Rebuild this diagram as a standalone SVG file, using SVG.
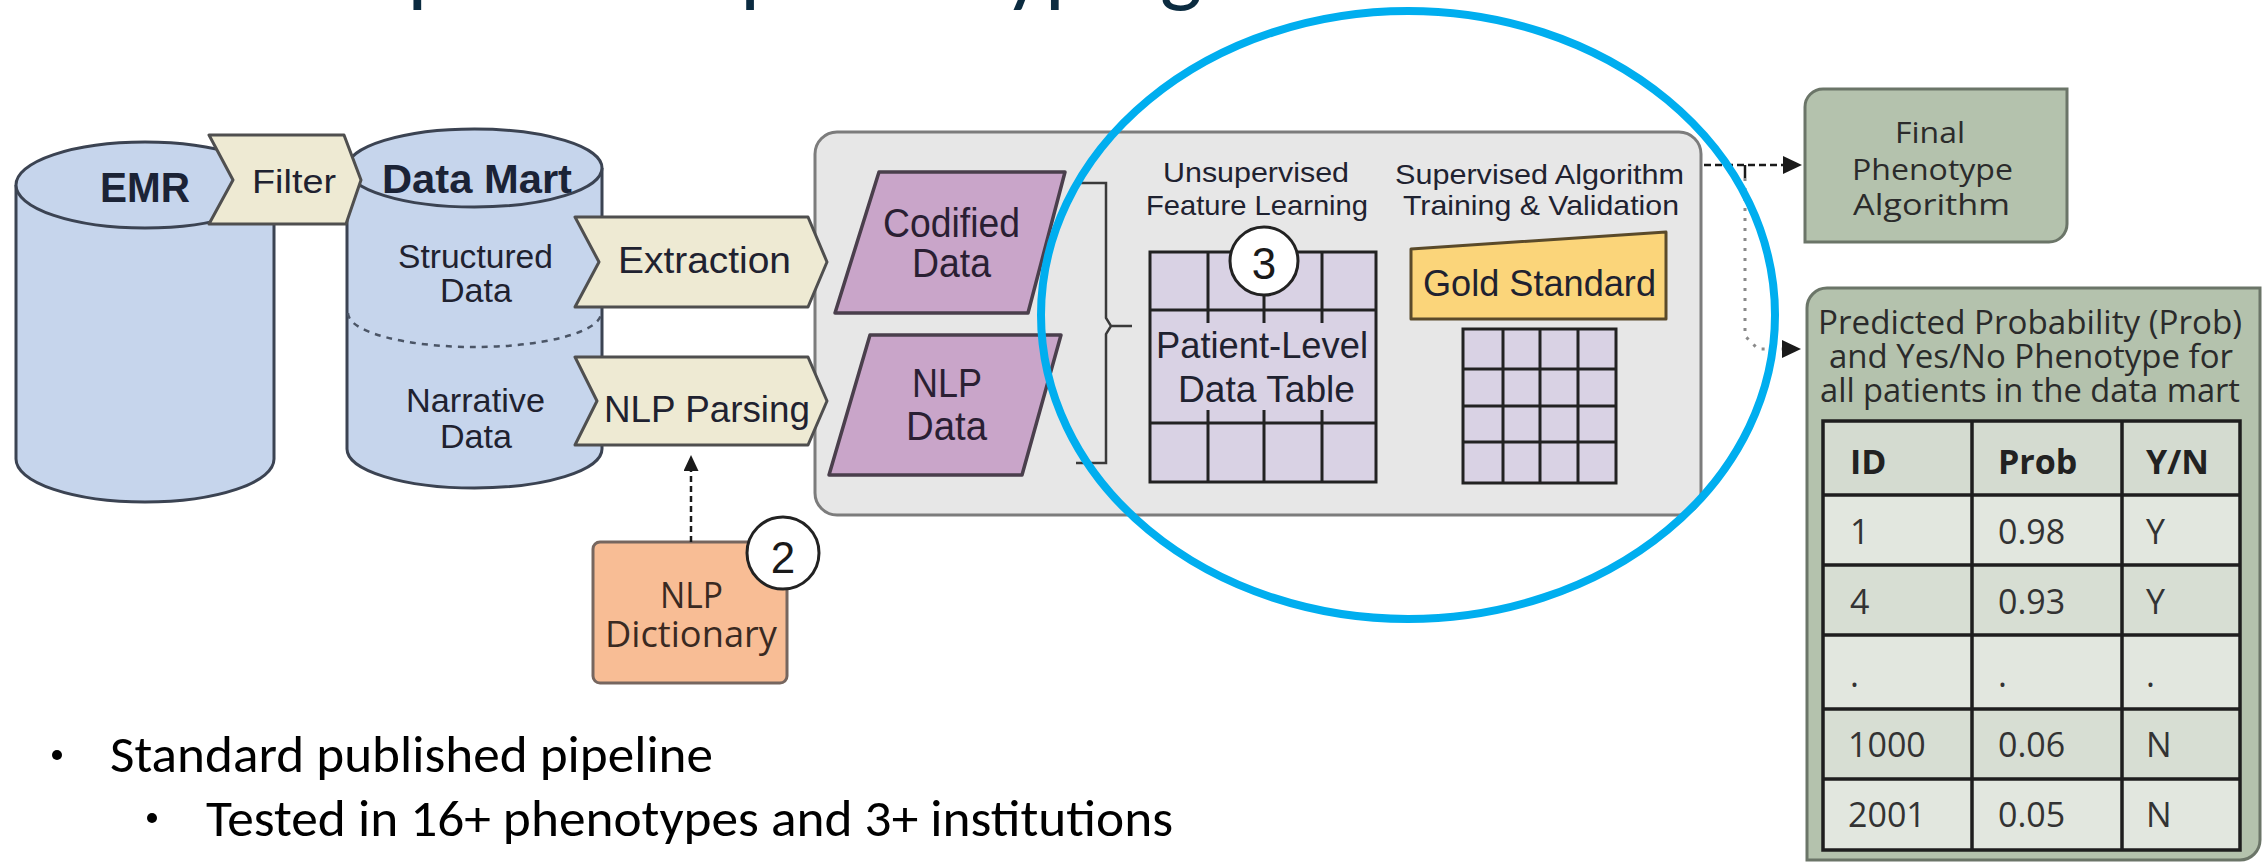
<svg xmlns="http://www.w3.org/2000/svg" width="2267" height="862" viewBox="0 0 2267 862">
  <defs>
    <style>
      .cn { font-family: "Liberation Sans Narrow", "Liberation Sans", Arial, sans-serif; fill: #1f2230; }
      .bd { font-weight: 700; fill: #1b2336; }
      .rg { font-family: "Open Sans", "Noto Sans", "Liberation Sans", sans-serif; fill: #2b2b2b; }
      .sl { font-family: Carlito, "Liberation Sans", Arial, sans-serif; fill: #000; }
      .cyl { fill: #c6d5ec; stroke: #3b4352; stroke-width: 3; }
      .chev { fill: #eeead3; stroke: #4f4f4f; stroke-width: 3; stroke-linejoin: round; }
      .para { fill: #c9a5c9; stroke: #4a3f4c; stroke-width: 3.5; stroke-linejoin: round; }
      .grid { fill: #d9d2e4; stroke: #222; stroke-width: 3; }
      .gl { stroke: #222; stroke-width: 3; fill: none; }
      .green { fill: #b4c2ad; stroke: #6b7568; stroke-width: 3; }
      .cell { stroke: #1e1e1e; stroke-width: 3.5; }
      .num { fill: #fff; stroke: #222; stroke-width: 3; }
      .tc { font-family: "Open Sans", "Noto Sans", "Liberation Sans", sans-serif; font-size: 34px; fill: #333; }
    </style>
    <marker id="ah" viewBox="0 0 20 18" refX="1" refY="9" markerWidth="20" markerHeight="18" markerUnits="userSpaceOnUse" orient="auto">
      <path d="M0,0 L19,9 L0,18 Z" fill="#1a1a1a"/>
    </marker>
    <marker id="ahs" viewBox="0 0 16 15" refX="1" refY="7.5" markerWidth="16" markerHeight="15" markerUnits="userSpaceOnUse" orient="auto">
      <path d="M0,0 L16,7.5 L0,15 Z" fill="#1a1a1a"/>
    </marker>
  </defs>

  <rect width="2267" height="862" fill="#ffffff"/>

  <!-- slide title, clipped by the top edge -->
  <text id="title" class="sl" x="119" y="-5" font-size="90" fill="#0b2b40" style="fill:#0b2b40" textLength="1083" lengthAdjust="spacingAndGlyphs">Semi-supervised phenotyping</text>

  <!-- EMR cylinder -->
  <g id="emr">
    <path class="cyl" d="M16,185 V459 A129,43 0 0 0 274,459 V185"/>
    <ellipse class="cyl" cx="145" cy="185" rx="129" ry="43"/>
    <text class="cn bd" x="100" y="202" font-size="42" textLength="90" lengthAdjust="spacingAndGlyphs">EMR</text>
  </g>

  <!-- Data Mart cylinder -->
  <g id="datamart">
    <path class="cyl" d="M347,168 V449 A127.5,39 0 0 0 602,449 V168"/>
    <ellipse class="cyl" cx="474.5" cy="168" rx="127.5" ry="39"/>
    <path d="M348,313 A126.5,34 0 0 0 601,313" fill="none" stroke="#4b5566" stroke-width="2.5" stroke-dasharray="6,6"/>
    <text class="cn bd" x="382" y="193" font-size="40" textLength="190" lengthAdjust="spacingAndGlyphs">Data Mart</text>
    <text class="cn" x="398" y="268" font-size="33" textLength="155" lengthAdjust="spacingAndGlyphs">Structured</text>
    <text class="cn" x="440" y="302" font-size="33" textLength="72" lengthAdjust="spacingAndGlyphs">Data</text>
    <text class="cn" x="406" y="412" font-size="33" textLength="139" lengthAdjust="spacingAndGlyphs">Narrative</text>
    <text class="cn" x="440" y="448" font-size="33" textLength="72" lengthAdjust="spacingAndGlyphs">Data</text>
  </g>

  <!-- Filter step -->
  <g id="filter">
    <polygon class="chev" stroke-width="2" points="209,135 344,135 361,180 346,224 209,224 233,180"/>
    <text class="cn" x="252" y="193" font-size="34" textLength="84" lengthAdjust="spacingAndGlyphs">Filter</text>
  </g>

  <!-- processing panel -->
  <g id="panel">
    <rect x="815" y="132" width="886" height="383" rx="22" fill="#e7e7e7" stroke="#7c7c7c" stroke-width="3"/>
  </g>

  <!-- Extraction step -->
  <g id="extraction">
    <polygon class="chev" points="575,217 808,217 827,262 808,307 575,307 599,262"/>
    <text class="cn" x="618" y="273" font-size="36" textLength="173" lengthAdjust="spacingAndGlyphs">Extraction</text>
  </g>

  <!-- NLP Parsing step -->
  <g id="nlpparsing">
    <polygon class="chev" points="575,357 808,357 827,401 808,445 575,445 597,401"/>
    <text class="cn" x="604" y="422" font-size="36" textLength="206" lengthAdjust="spacingAndGlyphs">NLP Parsing</text>
  </g>

  <!-- Codified Data -->
  <g id="codified">
    <polygon class="para" points="879,172 1065,172 1028,313 835,313"/>
    <text class="cn" x="883" y="237" font-size="40" textLength="137" lengthAdjust="spacingAndGlyphs" style="fill:#2a1f33">Codified</text>
    <text class="cn" x="912" y="277" font-size="40" textLength="79" lengthAdjust="spacingAndGlyphs" style="fill:#2a1f33">Data</text>
  </g>

  <!-- NLP Data -->
  <g id="nlpdata">
    <polygon class="para" points="870,335 1061,335 1022,475 829,475"/>
    <text class="cn" x="912" y="397" font-size="40" textLength="70" lengthAdjust="spacingAndGlyphs" style="fill:#2a1f33">NLP</text>
    <text class="cn" x="906" y="440" font-size="40" textLength="81" lengthAdjust="spacingAndGlyphs" style="fill:#2a1f33">Data</text>
  </g>

  <!-- bracket joining both data sources -->
  <g id="bracket">
    <path d="M1078,183 H1106 V318 L1111,326 L1106,334 V463 H1076 M1111,326 H1132" fill="none" stroke="#3a3a3a" stroke-width="2.5"/>
  </g>

  <!-- Unsupervised feature learning: patient-level data table -->
  <g id="featuretable">
    <text class="cn" x="1163" y="182" font-size="28" textLength="186" lengthAdjust="spacingAndGlyphs">Unsupervised</text>
    <text class="cn" x="1146" y="215" font-size="28" textLength="222" lengthAdjust="spacingAndGlyphs">Feature Learning</text>
    <rect class="grid" x="1150" y="252" width="226" height="230"/>
    <path class="gl" d="M1150,310 H1376 M1150,423 H1376 M1208,252 V323 M1264,252 V323 M1322,252 V323 M1208,410 V482 M1264,410 V482 M1322,410 V482"/>
    <text class="cn" x="1156" y="358" font-size="37" textLength="212" lengthAdjust="spacingAndGlyphs">Patient-Level</text>
    <text class="cn" x="1178" y="402" font-size="37" textLength="177" lengthAdjust="spacingAndGlyphs">Data Table</text>
    <circle class="num" cx="1264" cy="261" r="34"/>
    <text class="cn" x="1264" y="279" font-size="44" text-anchor="middle" style="fill:#1a1a1a">3</text>
  </g>

  <!-- Supervised training with gold standard -->
  <g id="supervised">
    <text class="cn" x="1395" y="184" font-size="28" textLength="289" lengthAdjust="spacingAndGlyphs">Supervised Algorithm</text>
    <text class="cn" x="1403" y="215" font-size="28" textLength="276" lengthAdjust="spacingAndGlyphs">Training &amp; Validation</text>
    <polygon points="1411,249 1666,232 1666,319 1411,319" fill="#fbd57a" stroke="#5a4a2a" stroke-width="3" stroke-linejoin="round"/>
    <text class="cn" x="1423" y="296" font-size="37" textLength="233" lengthAdjust="spacingAndGlyphs">Gold Standard</text>
    <rect class="grid" x="1463" y="329" width="153" height="154"/>
    <path class="gl" d="M1463,369 H1616 M1463,406 H1616 M1463,442 H1616 M1503,329 V483 M1540,329 V483 M1578,329 V483"/>
  </g>

  <!-- NLP Dictionary -->
  <g id="nlpdict">
    <rect x="593" y="542" width="194" height="141" rx="7" fill="#f8bd95" stroke="#76665f" stroke-width="3"/>
    <text class="rg" x="660" y="608" font-size="36" textLength="63" lengthAdjust="spacingAndGlyphs" style="fill:#3a2a22">NLP</text>
    <text class="rg" x="605" y="647" font-size="36" textLength="172" lengthAdjust="spacingAndGlyphs" style="fill:#3a2a22">Dictionary</text>
    <circle class="num" cx="783" cy="553" r="36"/>
    <text class="cn" x="783" y="573" font-size="44" text-anchor="middle" style="fill:#1a1a1a">2</text>
  </g>

  <!-- Final Phenotype Algorithm -->
  <g id="final">
    <path class="green" d="M1823,89 H2067 V224 A18,18 0 0 1 2049,242 H1805 V107 A18,18 0 0 1 1823,89 Z"/>
    <text class="rg" x="1895" y="143" font-size="30" textLength="70" lengthAdjust="spacingAndGlyphs">Final</text>
    <text class="rg" x="1852" y="180" font-size="30" textLength="161" lengthAdjust="spacingAndGlyphs">Phenotype</text>
    <text class="rg" x="1853" y="215" font-size="30" textLength="157" lengthAdjust="spacingAndGlyphs">Algorithm</text>
  </g>

  <!-- Predicted probability output -->
  <g id="predicted">
    <path class="green" d="M1827,288 H2260 V840 A20,20 0 0 1 2240,860 H1807 V308 A20,20 0 0 1 1827,288 Z"/>
    <text class="rg" x="1818" y="334" font-size="32" textLength="424" lengthAdjust="spacingAndGlyphs">Predicted Probability (Prob)</text>
    <text class="rg" x="1829" y="368" font-size="32" textLength="404" lengthAdjust="spacingAndGlyphs">and Yes/No Phenotype for</text>
    <text class="rg" x="1820" y="402" font-size="32" textLength="420" lengthAdjust="spacingAndGlyphs">all patients in the data mart</text>
    <rect x="1823" y="421" width="417" height="74" fill="#d4dbd0"/>
    <rect x="1823" y="495" width="417" height="70" fill="#e2e7df"/>
    <rect x="1823" y="565" width="417" height="70" fill="#d7ded3"/>
    <rect x="1823" y="635" width="417" height="74" fill="#e2e7df"/>
    <rect x="1823" y="709" width="417" height="70" fill="#d7ded3"/>
    <rect x="1823" y="779" width="417" height="71" fill="#e2e7df"/>
    <rect class="cell" x="1823" y="421" width="417" height="429" fill="none"/>
    <path class="cell" d="M1972,421 V850 M2122,421 V850 M1823,495 H2240 M1823,565 H2240 M1823,635 H2240 M1823,709 H2240 M1823,779 H2240"/>
    <text class="tc" x="1850" y="474" font-weight="700" style="fill:#222">ID</text>
    <text class="tc" x="1998" y="474" font-weight="700" style="fill:#222">Prob</text>
    <text class="tc" x="2146" y="474" font-weight="700" style="fill:#222">Y/N</text>
    <text class="tc" x="1850" y="544">1</text>
    <text class="tc" x="1998" y="544">0.98</text>
    <text class="tc" x="2146" y="544">Y</text>
    <text class="tc" x="1850" y="614">4</text>
    <text class="tc" x="1998" y="614">0.93</text>
    <text class="tc" x="2146" y="614">Y</text>
    <text class="tc" x="1850" y="687">.</text>
    <text class="tc" x="1998" y="687">.</text>
    <text class="tc" x="2146" y="687">.</text>
    <text class="tc" x="1848" y="757">1000</text>
    <text class="tc" x="1998" y="757">0.06</text>
    <text class="tc" x="2146" y="757">N</text>
    <text class="tc" x="1848" y="827">2001</text>
    <text class="tc" x="1998" y="827">0.05</text>
    <text class="tc" x="2146" y="827">N</text>
  </g>

  <!-- connectors -->
  <g id="connectors" fill="none">
    <path d="M691,542 V470" stroke="#1a1a1a" stroke-width="2.5" stroke-dasharray="6,4" marker-end="url(#ahs)"/>
    <path d="M1704,165 H1784" stroke="#1a1a1a" stroke-width="2.5" stroke-dasharray="7,4" marker-end="url(#ah)"/>
    <path d="M1745,165 V178" stroke="#1a1a1a" stroke-width="2.5"/>
    <path d="M1745,178 V336 L1758,349 H1783" stroke="#8a8a8a" stroke-width="3" stroke-dasharray="3,7" marker-end="url(#ah)"/>
  </g>

  <!-- highlight ring -->
  <ellipse id="highlight" cx="1408" cy="315" rx="367" ry="304" fill="none" stroke="#00aeef" stroke-width="8"/>

  <!-- bullet points -->
  <g id="bullets">
    <circle cx="57" cy="755" r="5" fill="#000"/>
    <text class="sl" x="110" y="772" font-size="52" textLength="603" lengthAdjust="spacingAndGlyphs">Standard published pipeline</text>
    <circle cx="152" cy="818" r="5" fill="#000"/>
    <text class="sl" x="206" y="836" font-size="52" textLength="967" lengthAdjust="spacingAndGlyphs">Tested in 16+ phenotypes and 3+ institutions</text>
  </g>
</svg>
